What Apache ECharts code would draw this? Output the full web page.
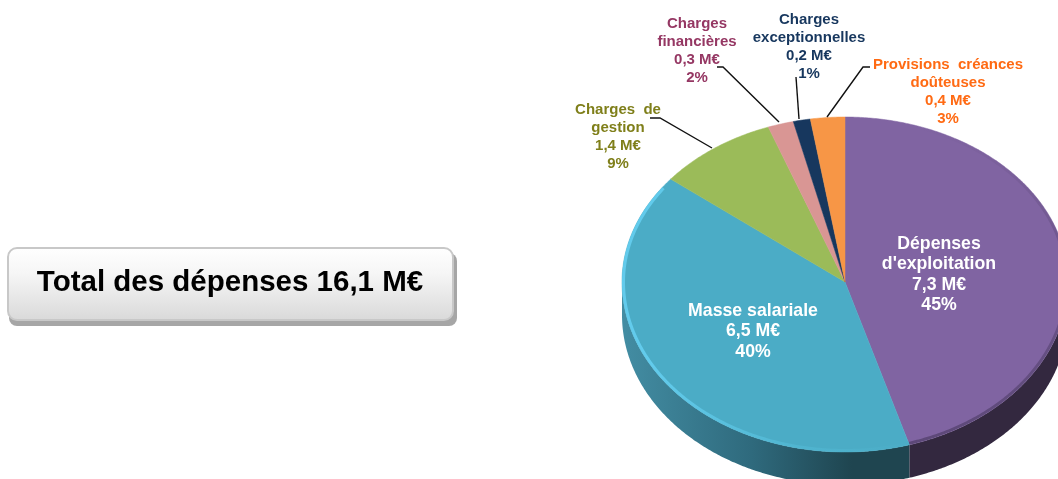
<!DOCTYPE html>
<html>
<head>
<meta charset="utf-8">
<style>
    body { margin: 0; background: #fff; }
    #main { width: 1058px; height: 479px; }
</style>
<script src="https://cdn.jsdelivr.net/npm/echarts@6/dist/echarts.min.js"></script>
</head>
<body>
<div id="main"></div>
<script>
// données
const categories = ['Dépenses\nd\'exploitation', 'Masse salariale', 'Charges  de\ngestion', 'Charges\nfinancières', 'Charges\nexceptionnelles', 'Provisions  créances\ndoûteuses'];
const amounts = [7.3, 6.5, 1.4, 0.3, 0.2, 0.4];
const amountLabels = ['7,3 M€', '6,5 M€', '1,4 M€', '0,3 M€', '0,2 M€', '0,4 M€'];
const percentLabels = ['45%', '40%', '9%', '2%', '1%', '3%'];
const totalLabel = 'Total des dépenses 16,1 M€';

const sliceColors = ['#8064a2', '#4bacc6', '#9bbb59', '#d99694', '#17375e', '#f79646'];
const labelColors = ['#ffffff', '#ffffff', '#7f7f1a', '#953763', '#17375e', '#ff6a13'];
// centre du texte, première ligne
const labelPos = [[939, 244], [753, 311], [618, 110], [697, 24], [809, 20], [948, 65]];
const labelFont = [17.7, 17.7, 15, 15, 15, 15];
const labelLine = [20.5, 20.5, 18, 18, 18, 18];
const leaders = [null, null,
    [[712, 148], [660, 118], [650, 118]],
    [[779, 122], [723, 67], [717, 67]],
    [[799, 119], [796, 77]],
    [[827, 117], [863, 67], [870, 67]]];

const cx = 845, cy = 282, rx = 223, ryTop = 165, ryBottom = 170, depth = 33;
const total = amounts.reduce((a, b) => a + b, 0);

// angle depuis midi, sens horaire
function pt(deg, dy, inset) {
    const a = deg * Math.PI / 180;
    const c = -Math.cos(a);
    const k = inset || 0;
    return [cx + (rx - k) * Math.sin(a), cy + ((c > 0 ? ryBottom : ryTop) - k) * c + (dy || 0)];
}
function arc(from, to, dy, inset) {
    const pts = [];
    for (let d = from; d < to; d += 0.5) pts.push(pt(d, dy, inset));
    pts.push(pt(to, dy, inset));
    return pts;
}
function range(i) {
    let s = 0;
    for (let k = 0; k < i; k++) s += amounts[k];
    return [s / total * 360, (s + amounts[i]) / total * 360];
}
function hGrad(stops) {
    return { type: 'linear', x: 0, y: 0, x2: 1, y2: 0, colorStops: stops };
}

function renderWall(params, api) {
    const r = range(params.dataIndex);
    const from = Math.max(r[0], 90), to = Math.min(r[1], 270);
    if (to <= from) return { type: 'group', children: [] };
    const points = arc(from, to, 0).concat(arc(from, to, depth).reverse());
    const fill = params.dataIndex === 0 ? '#33283f'
        : hGrad([{ offset: 0, color: '#438da3' }, { offset: 0.45, color: '#2f6a7d' }, { offset: 0.8, color: '#1f4550' }, { offset: 1, color: '#1f4550' }]);
    return { type: 'polygon', shape: { points: points }, style: { fill: fill } };
}

function renderSlice(params, api) {
    const i = params.dataIndex;
    const r = range(i);
    const children = [{
        type: 'polygon',
        shape: { points: [[cx, cy]].concat(arc(r[0], r[1], 0)) },
        style: { fill: sliceColors[i], stroke: sliceColors[i], lineWidth: 0.5 }
    }];
    if (i === 0) {
        // bord sombre, plus marqué vers le bas
        children.push({ type: 'polyline', shape: { points: arc(r[0] + 20, r[1], 0, 1.5) },
            style: { fill: 'none', lineWidth: 3,
                stroke: { type: 'linear', x: 0, y: 0, x2: 0, y2: 1, colorStops: [
                    { offset: 0, color: 'rgba(50,38,70,0)' }, { offset: 0.45, color: 'rgba(50,38,70,0.25)' }, { offset: 1, color: 'rgba(50,38,70,0.45)' }] } } });
    }
    if (i === 1) {
        children.push({ type: 'polyline', shape: { points: arc(r[0], 305, 0, 1.5) },
            style: { fill: 'none', lineWidth: 3,
                stroke: { type: 'linear', x: 1, y: 0, x2: 0, y2: 0, colorStops: [
                    { offset: 0, color: '#4bacc6' }, { offset: 0.4, color: '#50b5d0' }, { offset: 0.9, color: '#62cbec' }, { offset: 1, color: '#62cbec' }] } } });
    }
    return { type: 'group', children: children };
}

function renderLabel(params, api) {
    const i = params.dataIndex;
    const children = [{
        type: 'text',
        style: {
            text: [categories[i], amountLabels[i], percentLabels[i]].join('\n'),
            x: labelPos[i][0],
            y: labelPos[i][1] - labelLine[i] / 2,
            align: 'center',
            verticalAlign: 'top',
            lineHeight: labelLine[i],
            fill: labelColors[i],
            font: 'bold ' + labelFont[i] + 'px "Liberation Sans"'
        }
    }];
    if (leaders[i]) {
        children.push({ type: 'polyline', shape: { points: leaders[i] },
            style: { fill: 'none', stroke: '#111', lineWidth: 1.4 } });
    }
    return { type: 'group', children: children };
}

const seriesData = amounts.map(v => [v]);
const myChart = echarts.init(document.getElementById('main'), null, { renderer: 'canvas' });
myChart.setOption({
    animation: false,
    backgroundColor: '#fff',
    series: [
        { type: 'custom', coordinateSystem: 'none', data: seriesData, renderItem: renderWall, z: 1, silent: true },
        { type: 'custom', coordinateSystem: 'none', data: seriesData, renderItem: renderSlice, z: 2, silent: true },
        { type: 'custom', coordinateSystem: 'none', data: seriesData, renderItem: renderLabel, z: 3, silent: true }
    ],
    graphic: [
        { type: 'rect', z: 1, shape: { x: 9, y: 253, width: 448, height: 73, r: 8 }, style: { fill: '#a6a6a6' } },
        { type: 'rect', z: 2, shape: { x: 8, y: 248, width: 445, height: 72, r: 9 },
            style: { stroke: '#c8c8c8', lineWidth: 2,
                fill: { type: 'linear', x: 0, y: 0, x2: 0, y2: 1, colorStops: [
                    { offset: 0, color: '#ffffff' }, { offset: 0.35, color: '#f6f6f6' }, { offset: 1, color: '#d9d9d9' }] } } },
        { type: 'text', z: 3, style: { text: totalLabel, x: 230, y: 283, align: 'center', verticalAlign: 'middle',
            fill: '#000', font: 'bold 29.5px "Liberation Sans"' } }
    ]
});
</script>
</body>
</html>
